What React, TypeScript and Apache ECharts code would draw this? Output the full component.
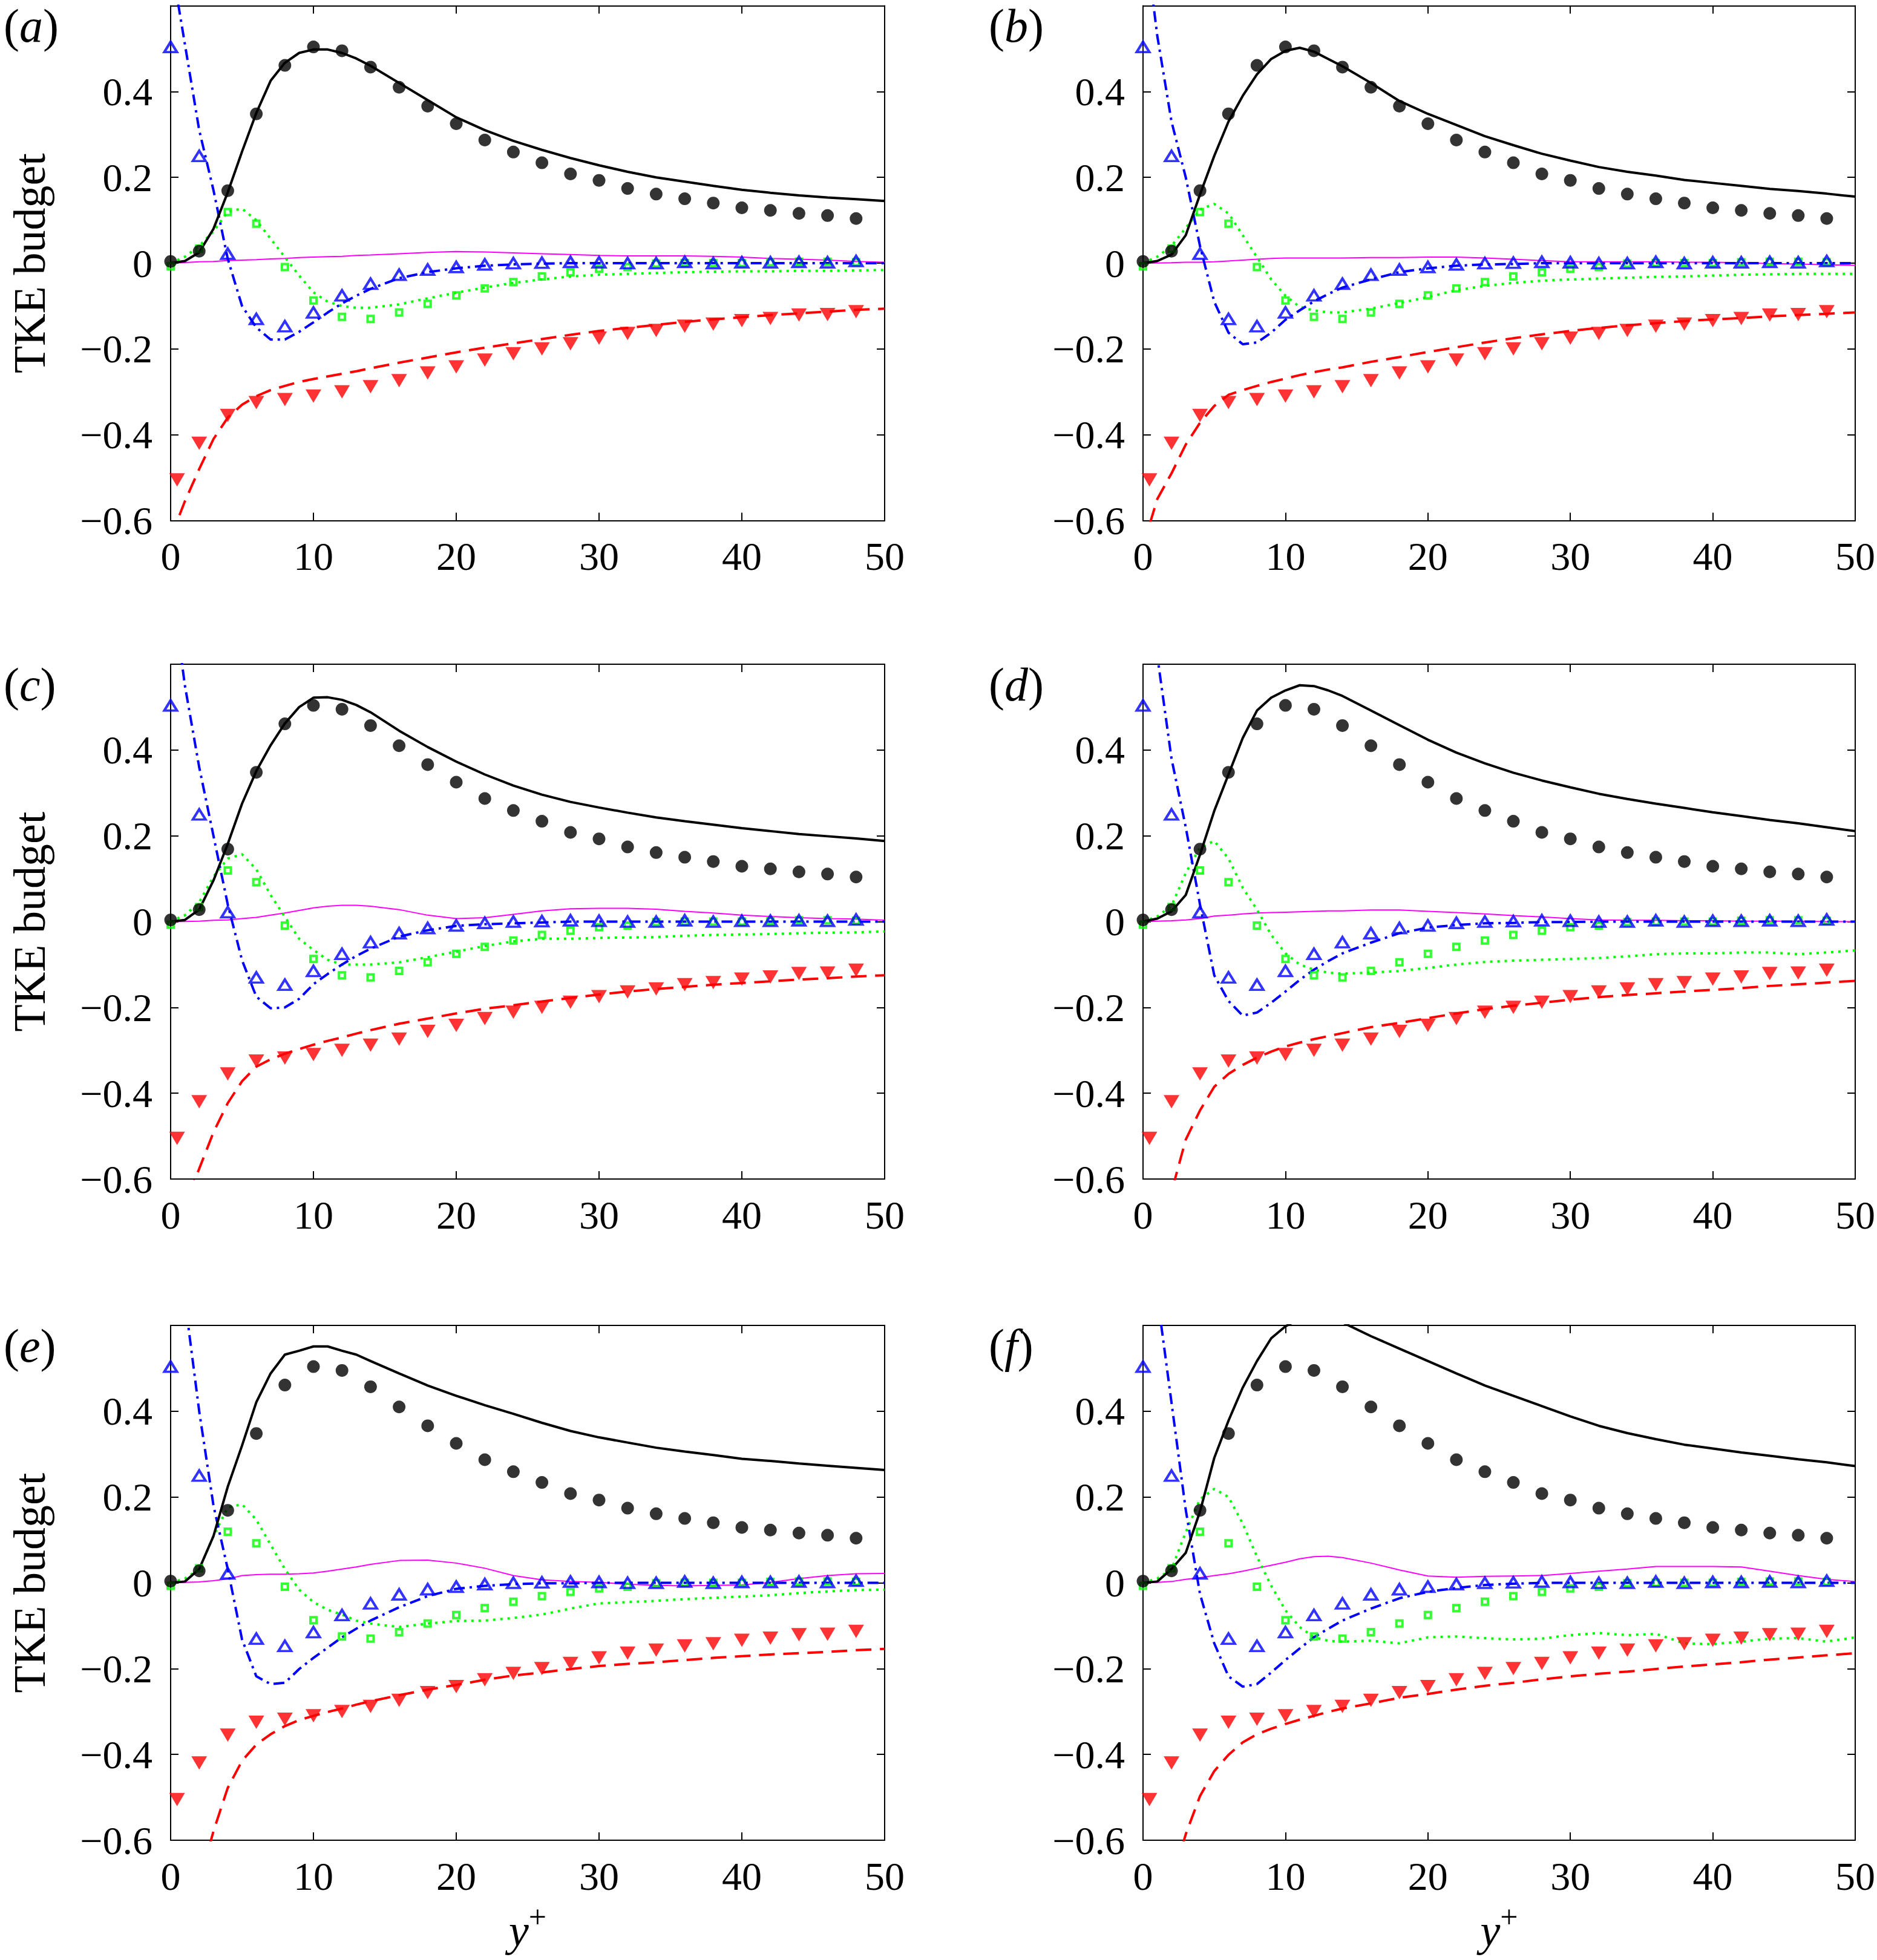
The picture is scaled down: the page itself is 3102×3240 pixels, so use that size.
import React, { useEffect, useRef } from 'react';
import * as echarts from 'echarts';

// ---------- data ----------
const LINE_X = [0, 1, 2, 3, 4, 5, 6, 7, 8, 9, 10, 11, 12, 13, 14, 16, 18, 20, 22, 24, 26, 28, 30, 32, 34, 36, 38, 40, 42, 44, 46, 48, 50];

const DNS_X = [0, 2, 4, 6, 8, 10, 12, 14, 16, 18, 20, 22, 24, 26, 28, 30, 32, 34, 36, 38, 40, 42, 44, 46, 48];
const DNS_DISS_X = [0.45, 2, 4, 6, 8, 10, 12, 14, 16, 18, 20, 22, 24, 26, 28, 30, 32, 34, 36, 38, 40, 42, 44, 46, 48];
const DNS_PROD = [0.004, 0.028, 0.169, 0.348, 0.461, 0.504, 0.495, 0.457, 0.41, 0.366, 0.325, 0.287, 0.259, 0.234, 0.208, 0.193, 0.174, 0.161, 0.15, 0.14, 0.129, 0.123, 0.116, 0.111, 0.104];
const DNS_DISS = [-0.505, -0.42, -0.355, -0.325, -0.318, -0.31, -0.3, -0.288, -0.274, -0.256, -0.242, -0.226, -0.211, -0.2, -0.188, -0.175, -0.164, -0.157, -0.147, -0.142, -0.134, -0.129, -0.121, -0.12, -0.113];
const DNS_VISC = [0.504, 0.25, 0.022, -0.13, -0.147, -0.115, -0.075, -0.048, -0.027, -0.015, -0.009, -0.003, 0, 0.001, 0.003, 0.002, 0, 0, 0.003, 0, 0.002, 0.002, 0.003, 0.002, 0.005];
const DNS_TURB = [-0.007, 0.034, 0.119, 0.092, -0.009, -0.087, -0.125, -0.13, -0.115, -0.095, -0.075, -0.059, -0.044, -0.031, -0.021, -0.013, -0.009, -0.001, 0, 0, 0, 0.002, 0.003, 0.003, 0.002];

// model lines, panel (a)..(f)
const PROD_A = [0, 0.005, 0.025, 0.08, 0.165, 0.26, 0.35, 0.425, 0.467, 0.49, 0.498, 0.498, 0.49, 0.477, 0.46, 0.42, 0.38, 0.34, 0.31, 0.285, 0.264, 0.245, 0.228, 0.213, 0.2, 0.19, 0.18, 0.171, 0.164, 0.158, 0.153, 0.149, 0.145];
const DISS_A = [-0.64, -0.555, -0.48, -0.41, -0.36, -0.33, -0.31, -0.296, -0.286, -0.277, -0.27, -0.264, -0.258, -0.252, -0.245, -0.232, -0.22, -0.208, -0.197, -0.187, -0.177, -0.167, -0.158, -0.151, -0.144, -0.137, -0.131, -0.126, -0.121, -0.117, -0.113, -0.109, -0.106];
const VISC_A = [0.71, 0.51, 0.31, 0.17, 0.01, -0.1, -0.15, -0.178, -0.178, -0.16, -0.138, -0.115, -0.094, -0.076, -0.06, -0.035, -0.021, -0.012, -0.006, -0.003, -0.001, 0, 0, 0, 0, 0, 0, 0, 0, 0, 0, 0, 0];
const TURB_A = [0, 0.015, 0.04, 0.074, 0.12, 0.127, 0.1, 0.057, 0.014, -0.029, -0.068, -0.09, -0.1, -0.104, -0.104, -0.096, -0.082, -0.069, -0.057, -0.046, -0.038, -0.031, -0.027, -0.025, -0.023, -0.021, -0.02, -0.019, -0.019, -0.018, -0.018, -0.017, -0.016];
const PRES_A = [0, 0.0015, 0.003, 0.004, 0.006, 0.007, 0.008, 0.01, 0.011, 0.013, 0.014, 0.015, 0.016, 0.018, 0.019, 0.022, 0.025, 0.027, 0.026, 0.024, 0.022, 0.02, 0.018, 0.017, 0.017, 0.017, 0.016, 0.014, 0.011, 0.009, 0.007, 0.004, 0.002];

const PROD_B = [0, 0.005, 0.02, 0.065, 0.16, 0.25, 0.33, 0.39, 0.44, 0.476, 0.495, 0.502, 0.493, 0.476, 0.459, 0.42, 0.378, 0.348, 0.322, 0.296, 0.275, 0.255, 0.239, 0.224, 0.213, 0.204, 0.194, 0.187, 0.18, 0.173, 0.168, 0.162, 0.155];
const DISS_B = [-0.66, -0.55, -0.49, -0.423, -0.372, -0.333, -0.307, -0.296, -0.286, -0.277, -0.269, -0.261, -0.254, -0.248, -0.243, -0.23, -0.219, -0.207, -0.196, -0.185, -0.175, -0.166, -0.158, -0.151, -0.145, -0.14, -0.135, -0.131, -0.128, -0.124, -0.121, -0.118, -0.115];
const VISC_B = [0.8, 0.53, 0.33, 0.2, 0.04, -0.09, -0.162, -0.189, -0.185, -0.162, -0.132, -0.11, -0.089, -0.072, -0.057, -0.038, -0.021, -0.012, -0.006, -0.003, -0.002, 0, 0, 0, 0, 0, 0, 0, 0, 0, 0, 0, 0];
const TURB_B = [0, 0.015, 0.04, 0.082, 0.125, 0.138, 0.116, 0.065, 0.014, -0.038, -0.076, -0.102, -0.11, -0.115, -0.115, -0.106, -0.093, -0.079, -0.063, -0.053, -0.046, -0.041, -0.038, -0.036, -0.034, -0.032, -0.031, -0.029, -0.027, -0.026, -0.025, -0.025, -0.025];
const PRES_B = [0, 0.0005, 0.001, 0.002, 0.002, 0.003, 0.005, 0.007, 0.009, 0.011, 0.012, 0.012, 0.012, 0.012, 0.012, 0.013, 0.013, 0.014, 0.014, 0.012, 0.009, 0.006, 0.003, 0.003, 0.003, 0.003, 0.002, 0.002, 0.001, -0.001, -0.002, -0.004, -0.005];

const PROD_C = [0, 0.004, 0.028, 0.096, 0.181, 0.275, 0.351, 0.411, 0.462, 0.5, 0.522, 0.523, 0.517, 0.505, 0.488, 0.445, 0.407, 0.373, 0.343, 0.317, 0.296, 0.279, 0.266, 0.254, 0.243, 0.234, 0.226, 0.218, 0.211, 0.204, 0.199, 0.194, 0.188];
const DISS_C = [-0.8, -0.66, -0.576, -0.491, -0.423, -0.372, -0.338, -0.321, -0.308, -0.297, -0.287, -0.278, -0.27, -0.261, -0.253, -0.238, -0.226, -0.214, -0.203, -0.195, -0.186, -0.178, -0.17, -0.163, -0.157, -0.152, -0.147, -0.143, -0.139, -0.135, -0.132, -0.128, -0.125];
const VISC_C = [0.8, 0.55, 0.36, 0.2, 0.04, -0.09, -0.175, -0.202, -0.2, -0.18, -0.146, -0.122, -0.1, -0.08, -0.063, -0.035, -0.02, -0.01, -0.006, -0.004, -0.002, 0, 0, 0, 0, 0, 0, 0, 0, 0, 0, 0, 0];
const TURB_C = [0, 0.015, 0.045, 0.105, 0.147, 0.157, 0.122, 0.062, 0.011, -0.04, -0.066, -0.089, -0.1, -0.1, -0.1, -0.095, -0.083, -0.07, -0.057, -0.046, -0.04, -0.04, -0.038, -0.037, -0.036, -0.033, -0.031, -0.03, -0.029, -0.027, -0.026, -0.025, -0.023];
const PRES_C = [0, 0.0005, 0.001, 0.003, 0.004, 0.007, 0.01, 0.015, 0.02, 0.026, 0.032, 0.036, 0.038, 0.038, 0.036, 0.028, 0.015, 0.007, 0.009, 0.017, 0.025, 0.03, 0.031, 0.031, 0.029, 0.024, 0.02, 0.015, 0.012, 0.009, 0.007, 0.006, 0.003];

const PROD_D = [0, 0.007, 0.024, 0.062, 0.156, 0.258, 0.343, 0.428, 0.492, 0.522, 0.539, 0.551, 0.549, 0.539, 0.526, 0.492, 0.458, 0.424, 0.394, 0.369, 0.347, 0.329, 0.313, 0.298, 0.286, 0.275, 0.265, 0.255, 0.246, 0.237, 0.229, 0.22, 0.211];
const DISS_D = [-0.95, -0.78, -0.63, -0.508, -0.44, -0.385, -0.355, -0.334, -0.317, -0.303, -0.291, -0.282, -0.274, -0.267, -0.26, -0.246, -0.236, -0.225, -0.214, -0.204, -0.196, -0.189, -0.182, -0.176, -0.171, -0.167, -0.163, -0.159, -0.155, -0.15, -0.146, -0.142, -0.138];
const VISC_D = [0.9, 0.62, 0.38, 0.22, 0.04, -0.125, -0.185, -0.219, -0.212, -0.189, -0.163, -0.136, -0.112, -0.092, -0.074, -0.049, -0.027, -0.014, -0.008, -0.004, -0.003, -0.001, -0.001, 0, 0, 0, 0, 0, 0, 0, 0, 0, 0];
const TURB_D = [0, 0.012, 0.037, 0.113, 0.173, 0.188, 0.147, 0.079, 0.028, -0.031, -0.074, -0.1, -0.112, -0.119, -0.121, -0.119, -0.115, -0.108, -0.1, -0.094, -0.091, -0.089, -0.087, -0.085, -0.081, -0.076, -0.074, -0.074, -0.072, -0.072, -0.076, -0.072, -0.067];
const PRES_D = [0, 0.001, 0.002, 0.004, 0.007, 0.013, 0.015, 0.018, 0.02, 0.021, 0.022, 0.023, 0.024, 0.025, 0.025, 0.027, 0.027, 0.024, 0.021, 0.018, 0.014, 0.011, 0.007, 0.004, 0.003, 0.003, 0.002, 0.002, 0.001, 0.001, 0.001, 0, 0];

const PROD_E = [0, 0.003, 0.032, 0.109, 0.224, 0.32, 0.421, 0.488, 0.532, 0.541, 0.551, 0.551, 0.541, 0.532, 0.517, 0.488, 0.46, 0.436, 0.414, 0.394, 0.373, 0.354, 0.339, 0.327, 0.315, 0.306, 0.298, 0.289, 0.284, 0.278, 0.273, 0.268, 0.263];
const DISS_E = [-1.0, -0.85, -0.7, -0.579, -0.478, -0.415, -0.377, -0.353, -0.334, -0.32, -0.31, -0.301, -0.293, -0.284, -0.276, -0.262, -0.249, -0.238, -0.226, -0.216, -0.209, -0.201, -0.194, -0.189, -0.185, -0.18, -0.175, -0.171, -0.167, -0.164, -0.161, -0.157, -0.154];
const VISC_E = [0.95, 0.66, 0.4, 0.18, 0.032, -0.132, -0.218, -0.236, -0.233, -0.201, -0.175, -0.151, -0.127, -0.107, -0.088, -0.057, -0.031, -0.014, -0.007, -0.003, -0.001, -0.001, 0, 0, 0, 0, 0, 0, 0, 0, 0, 0, 0];
const TURB_E = [0, 0.01, 0.032, 0.109, 0.176, 0.183, 0.147, 0.089, 0.032, -0.016, -0.045, -0.063, -0.074, -0.088, -0.095, -0.103, -0.095, -0.089, -0.088, -0.082, -0.074, -0.06, -0.048, -0.045, -0.042, -0.038, -0.035, -0.032, -0.029, -0.024, -0.02, -0.017, -0.016];
const PRES_E = [0, 0.001, 0.002, 0.005, 0.009, 0.017, 0.019, 0.02, 0.02, 0.021, 0.023, 0.027, 0.032, 0.037, 0.043, 0.052, 0.053, 0.046, 0.034, 0.017, 0.007, 0.003, 0.001, -0.003, -0.006, -0.007, -0.006, -0.005, 0.001, 0.01, 0.017, 0.021, 0.022];

const PROD_F = [0, 0.003, 0.032, 0.07, 0.166, 0.291, 0.378, 0.455, 0.517, 0.57, 0.598, 0.615, 0.62, 0.618, 0.607, 0.575, 0.546, 0.517, 0.488, 0.46, 0.436, 0.412, 0.388, 0.366, 0.349, 0.335, 0.322, 0.313, 0.304, 0.296, 0.288, 0.281, 0.272];
const DISS_F = [-1.0, -0.85, -0.7, -0.586, -0.497, -0.439, -0.401, -0.372, -0.353, -0.34, -0.329, -0.319, -0.31, -0.301, -0.293, -0.281, -0.268, -0.259, -0.249, -0.24, -0.233, -0.225, -0.218, -0.212, -0.207, -0.201, -0.195, -0.19, -0.185, -0.179, -0.174, -0.169, -0.164];
const VISC_F = [0.92, 0.67, 0.42, 0.17, -0.026, -0.141, -0.218, -0.242, -0.236, -0.209, -0.18, -0.153, -0.127, -0.107, -0.088, -0.06, -0.036, -0.021, -0.012, -0.005, -0.002, 0, 0, 0, 0, 0, 0, 0, 0, 0, 0, 0, 0];
const TURB_F = [0, 0.01, 0.032, 0.118, 0.195, 0.219, 0.2, 0.138, 0.061, -0.007, -0.064, -0.103, -0.127, -0.135, -0.137, -0.135, -0.141, -0.127, -0.125, -0.129, -0.132, -0.13, -0.122, -0.117, -0.122, -0.119, -0.141, -0.143, -0.137, -0.13, -0.129, -0.137, -0.127];
const PRES_F = [0, 0.001, 0.003, 0.008, 0.012, 0.017, 0.021, 0.027, 0.034, 0.041, 0.048, 0.056, 0.061, 0.062, 0.059, 0.046, 0.03, 0.016, 0.013, 0.015, 0.016, 0.017, 0.022, 0.027, 0.032, 0.038, 0.038, 0.038, 0.037, 0.027, 0.017, 0.008, 0.003];

const PANEL_LETTERS = ['a', 'b', 'c', 'd', 'e', 'f'];
const PANEL_LINES = [
  [PROD_A, DISS_A, VISC_A, TURB_A, PRES_A],
  [PROD_B, DISS_B, VISC_B, TURB_B, PRES_B],
  [PROD_C, DISS_C, VISC_C, TURB_C, PRES_C],
  [PROD_D, DISS_D, VISC_D, TURB_D, PRES_D],
  [PROD_E, DISS_E, VISC_E, TURB_E, PRES_E],
  [PROD_F, DISS_F, VISC_F, TURB_F, PRES_F],
];

const X_MIN = 0, X_MAX = 50, X_STEP = 10;
const Y_MIN = -0.6, Y_MAX = 0.6, Y_STEP = 0.2;
const Y_LABEL = 'TKE budget';

// ---------- layout / style ----------
const W = 3102, H = 3240;
const COL_LEFT = [282, 1889];
const ROW_TOP = [9.5, 1098, 2191];
const GW = 1180, GH = 851;
const FONT = 'Liberation Serif';
const TICK_FS = 66;
const LW = 4;

const zip = (xs: number[], ys: number[]) => xs.map((x, i) => [x, ys[i]]);

const fmtY = (v: number) => {
  const r = Math.round(v * 10) / 10;
  if (Math.abs(r - Y_MAX) < 1e-9) return '';
  if (r === 0) return '0';
  return (r < 0 ? '\u2212' : '') + Math.abs(r).toFixed(1);
};

function buildOption() {
  const grid: any[] = [];
  const xAxis: any[] = [];
  const yAxis: any[] = [];
  const series: any[] = [];
  const graphic: any[] = [];
  const axisLine = { show: true, onZero: false, lineStyle: { color: '#000', width: 2 } };
  const axisTick = { show: true, inside: true, length: 13, lineStyle: { color: '#000', width: 2 } };

  for (let p = 0; p < 6; p++) {
    const col = p % 2, row = Math.floor(p / 2);
    grid.push({ left: COL_LEFT[col], top: ROW_TOP[row], width: GW, height: GH, containLabel: false });
    const isBottom = row === 2, isLeft = col === 0;
    xAxis.push({
      type: 'value', gridIndex: p, min: X_MIN, max: X_MAX, interval: X_STEP, position: 'bottom',
      axisLine, axisTick, splitLine: { show: false },
      axisLabel: { show: true, margin: 26, fontSize: TICK_FS, fontFamily: FONT, color: '#000' },
      name: isBottom ? '{i|y}{s|+}' : '',
      nameLocation: 'middle', nameGap: 100,
      nameTextStyle: {
        fontFamily: FONT,
        rich: {
          i: { fontSize: 74, fontStyle: 'italic', fontFamily: FONT, color: '#000' },
          s: { fontSize: 52, fontFamily: FONT, color: '#000', padding: [0, 0, 46, 0] },
        },
      },
    });
    xAxis.push({
      type: 'value', gridIndex: p, min: X_MIN, max: X_MAX, interval: X_STEP, position: 'top',
      axisLine, axisTick, splitLine: { show: false }, axisLabel: { show: false },
    });
    yAxis.push({
      type: 'value', gridIndex: p, min: Y_MIN, max: Y_MAX, interval: Y_STEP, position: 'left',
      axisLine, axisTick, splitLine: { show: false },
      axisLabel: { show: true, margin: 30, fontSize: TICK_FS, fontFamily: FONT, color: '#000', formatter: fmtY },
      name: isLeft ? Y_LABEL : '',
      nameLocation: 'middle', nameGap: 196, nameRotate: 90,
      nameTextStyle: { fontSize: 74, fontFamily: FONT, color: '#000' },
    });
    yAxis.push({
      type: 'value', gridIndex: p, min: Y_MIN, max: Y_MAX, interval: Y_STEP, position: 'right',
      axisLine, axisTick, splitLine: { show: false }, axisLabel: { show: false },
    });

    const xi = p * 2, yi = p * 2;
    const [prod, diss, visc, turb, pres] = PANEL_LINES[p];
    const lineBase = { type: 'line', xAxisIndex: xi, yAxisIndex: yi, showSymbol: false, symbol: 'none', clip: true, z: 2 };
    series.push({ ...lineBase, data: zip(LINE_X, pres), lineStyle: { color: '#ff00ff', width: 2 } });
    series.push({ ...lineBase, data: zip(LINE_X, turb), lineStyle: { color: '#00ff00', width: LW, type: [4, 8] } });
    series.push({ ...lineBase, data: zip(LINE_X, visc), lineStyle: { color: '#0000ff', width: LW, type: [18, 8, 4, 8] } });
    series.push({ ...lineBase, data: zip(LINE_X, diss), lineStyle: { color: '#ff0000', width: LW, type: [26, 14] } });
    series.push({ ...lineBase, data: zip(LINE_X, prod), lineStyle: { color: '#000000', width: LW } });

    const scBase = { type: 'scatter', xAxisIndex: xi, yAxisIndex: yi, clip: false, z: 3 };
    series.push({ ...scBase, data: zip(DNS_X, DNS_TURB), symbol: 'rect', symbolSize: 10,
      itemStyle: { color: 'rgba(255,255,255,0)', borderColor: '#00ff00', borderWidth: 4 } });
    series.push({ ...scBase, data: zip(DNS_X, DNS_VISC), symbol: 'triangle', symbolSize: [21, 17],
      itemStyle: { color: 'rgba(255,255,255,0)', borderColor: '#0000ff', borderWidth: 4 } });
    series.push({ ...scBase, data: zip(DNS_DISS_X, DNS_DISS), symbol: 'triangle', symbolRotate: 180, symbolSize: [26, 22],
      itemStyle: { color: '#ff0000' } });
    series.push({ ...scBase, data: zip(DNS_X, DNS_PROD), symbol: 'circle', symbolSize: 21,
      itemStyle: { color: '#000000' } });

    graphic.push({
      type: 'text',
      left: col === 0 ? 6 : 1634,
      top: ROW_TOP[row] - 6,
      style: {
        text: `{n|(}{i|${PANEL_LETTERS[p]}}{n|)}`,
        font: `78px ${FONT}`,
        rich: {
          n: { fontSize: 78, fontFamily: FONT, fill: '#000' },
          i: { fontSize: 78, fontFamily: FONT, fontStyle: 'italic', fill: '#000' },
        },
      },
    });
  }

  return {
    animation: false,
    backgroundColor: '#ffffff',
    textStyle: { fontFamily: FONT },
    grid, xAxis, yAxis, series, graphic,
  };
}

export default function App() {
  const ref = useRef<HTMLDivElement>(null);
  useEffect(() => {
    if (!ref.current) return;
    const chart = echarts.init(ref.current, undefined, { renderer: 'svg', width: W, height: H });
    chart.setOption(buildOption());
    return () => chart.dispose();
  }, []);
  return (
    <div
      ref={ref}
      style={{ position: 'absolute', left: 0, top: 0, width: W, height: H, background: '#fff' }}
    />
  );
}
